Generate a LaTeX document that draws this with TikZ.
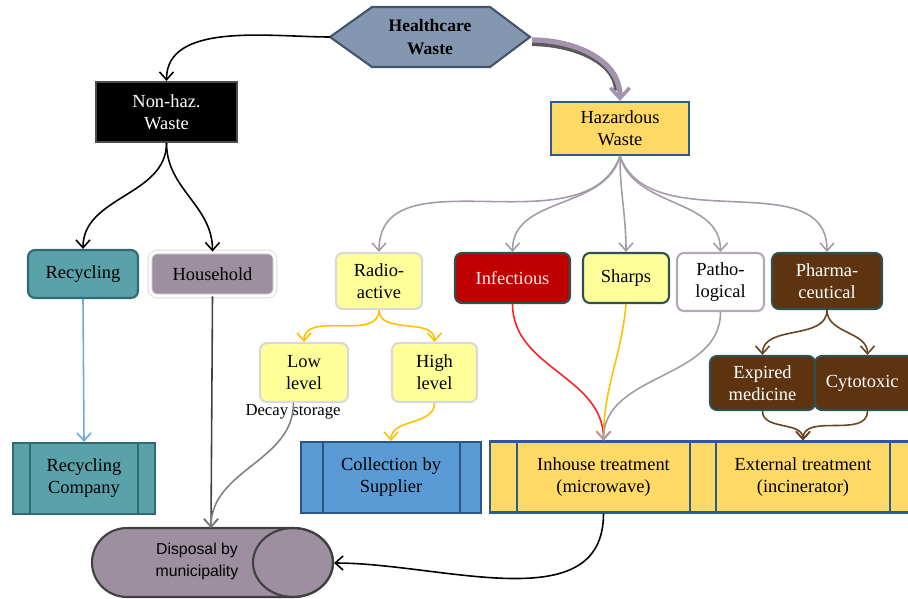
\documentclass[tikz,border=0pt]{standalone}
\usepackage{fontspec}
\setmainfont{Liberation Serif}
\newfontfamily\dispfont{Liberation Sans}
\usetikzlibrary{arrows.meta}
\definecolor{hcfill}{HTML}{8497B0}
\definecolor{hcdraw}{HTML}{44546A}
\definecolor{tealf}{HTML}{5AA1AA}
\definecolor{teald}{HTML}{2F6B73}
\definecolor{housec}{HTML}{9D8EA0}
\definecolor{gold}{HTML}{FFD966}
\definecolor{navyd}{HTML}{2E5C8A}
\definecolor{paley}{HTML}{FFFF99}
\definecolor{paled}{HTML}{D9D9D9}
\definecolor{redf}{HTML}{C00000}
\definecolor{slated}{HTML}{2F5050}
\definecolor{purpd}{HTML}{B4A7B6}
\definecolor{brownf}{HTML}{5E3410}
\definecolor{bluef}{HTML}{5B9BD5}
\definecolor{blued}{HTML}{2A5783}
\definecolor{arrpurp}{HTML}{A59AA8}
\definecolor{arrgold}{HTML}{FFC000}
\definecolor{arrred}{HTML}{FF2020}
\definecolor{arrbrown}{HTML}{6B4420}
\definecolor{arrblue}{HTML}{6FA8DC}
\definecolor{arrgray}{HTML}{808080}
\definecolor{bigarr}{HTML}{A393AC}
\begin{document}
\begin{tikzpicture}[x=0.02cm,y=-0.02cm,
  font=\fontsize{10.5}{12.5}\selectfont,
  bx/.style={draw, line width=1.2pt, align=center, inner sep=1pt},
  rbx/.style={bx, rounded corners=4pt},
  barb/.style={-{Straight Barb[length=4.5pt,width=8pt]}, line width=0.9pt},
  ppbox/.style={bx, fill=gold, draw=navyd, minimum height=1.42cm}]
\useasboundingbox (0,0) rectangle (908,598);

% Healthcare hexagon
\draw[fill=hcfill, draw=hcdraw, line width=1.2pt] (330,37) -- (372,7) -- (490,7) -- (530,37) -- (490,67) -- (372,67) -- cycle;
\node[font=\fontsize{10}{13}\selectfont\bfseries, align=center] (hc) at (430,37) {Healthcare\\Waste};
\coordinate (hcL) at (330,37);
\coordinate (hcR) at (532,40);

% Level 1
\node[bx, fill=black, draw=black!70, text=white, minimum width=2.82cm, minimum height=1.2cm] (nonhaz) at (166.5,112) {Non-haz.\\Waste};
\node[bx, fill=gold, draw=navyd, minimum width=2.76cm, minimum height=1.06cm] (haz) at (620,128.5) {Hazardous\\Waste};

% Level 2 left
\node[rbx, fill=tealf, draw=teald, minimum width=2.2cm, minimum height=0.96cm] (recyc) at (83,274) {Recycling};
\node[rbx, fill=housec, draw=black!15, double=white, double distance=1.6pt, line width=0.5pt, minimum width=2.5cm, minimum height=0.88cm] (house) at (212.5,274) {Household};

% Level 2 right
\node[rbx, fill=paley, draw=paled, minimum width=1.72cm, minimum height=1.12cm] (radio) at (379,281) {Radio-\\active};
\node[rbx, fill=redf, draw=slated, text=red!8, minimum width=2.3cm, minimum height=1.0cm] (infect) at (512.5,278) {Infectious};
\node[rbx, fill=paley, draw=slated, minimum width=1.72cm, minimum height=1.0cm] (sharps) at (626,278) {Sharps};
\node[rbx, fill=white, draw=purpd, minimum width=1.74cm, minimum height=1.16cm] (patho) at (720.5,282) {Patho-\\logical};
\node[rbx, fill=brownf, draw=slated, text=white, minimum width=2.2cm, minimum height=1.12cm] (pharma) at (827,281) {Pharma-\\ceutical};

% Level 3
\node[rbx, fill=paley, draw=paled, minimum width=1.76cm, minimum height=1.18cm] (low) at (304,372.5) {Low\\level};
\node[rbx, fill=paley, draw=paled, minimum width=1.7cm, minimum height=1.18cm] (high) at (434.5,372.5) {High\\level};
\node[font=\fontsize{9.5}{11}\selectfont] (decay) at (293,412) {Decay storage};
\node[rbx, fill=brownf, draw=slated, text=white, minimum width=2.1cm, minimum height=1.08cm] (expired) at (762.5,383) {Expired\\medicine};
\node[rbx, fill=brownf, draw=slated, text=white, minimum width=2.1cm, minimum height=1.08cm, text width=1.7cm, inner sep=1pt] (cyto) at (867.5,383) {\hspace*{-6pt}Cytotoxic};

% Level 4: predefined process boxes
\node[bx, fill=tealf, draw=teald, minimum width=2.84cm, minimum height=1.42cm] (recco) at (84,478.5) {Recycling\\Company};
\draw[teald, line width=1.2pt] ([xshift=0.36cm]recco.north west) -- ([xshift=0.36cm]recco.south west);
\draw[teald, line width=1.2pt] ([xshift=-0.36cm]recco.north east) -- ([xshift=-0.36cm]recco.south east);

\node[bx, fill=bluef, draw=blued, minimum width=3.6cm, minimum height=1.42cm] (coll) at (391,477.5) {Collection by\\Supplier};
\draw[blued, line width=1.2pt] ([xshift=0.46cm]coll.north west) -- ([xshift=0.46cm]coll.south west);
\draw[blued, line width=1.2pt] ([xshift=-0.44cm]coll.north east) -- ([xshift=-0.44cm]coll.south east);

\node[ppbox, minimum width=4.54cm] (inh) at (603.5,477) {Inhouse treatment\\(microwave)};
\draw[navyd, line width=1.2pt] ([xshift=0.56cm]inh.north west) -- ([xshift=0.56cm]inh.south west);

\node[ppbox, minimum width=4.52cm] (ext) at (803,477) {External treatment\\(incinerator)};
\draw[navyd, line width=1.2pt] ([xshift=0.54cm]ext.north west) -- ([xshift=0.54cm]ext.south west);
\draw[navyd, line width=1.2pt] ([xshift=-0.54cm]ext.north east) -- ([xshift=-0.54cm]ext.south east);

% Disposal cylinder
\draw[fill=housec, draw=black!75, line width=1.2pt] (293,528) arc[start angle=90, end angle=-90, x radius=0.8cm, y radius=0.69cm] -- (127,597) arc[start angle=270, end angle=90, x radius=0.7cm, y radius=0.69cm] -- cycle;
\draw[draw=black!75, line width=1.2pt] (293,562.5) ellipse[x radius=0.8cm, y radius=0.69cm];
\node[font=\dispfont\fontsize{9}{12.5}\selectfont, align=center] (disp) at (197,561) {Disposal by\\municipality};
\coordinate (dispT) at (211,528);
\coordinate (dispR) at (334,563);

% Connectors
\draw[barb, black] (hcL) to[out=180, in=90, looseness=0.9] (nonhaz.north);
\draw[line width=4pt, black!65, shorten >=6pt] ([yshift=-1.5pt]hcR) to[out=0, in=90] ([xshift=-1.5pt]haz.north);
\draw[bigarr, line width=3pt, -{Straight Barb[length=6pt,width=11pt,line width=2pt]}] (hcR) to[out=0, in=90] (haz.north);

\draw[barb, black] (nonhaz.south) to[out=270, in=90] (recyc.north);
\draw[barb, black] (nonhaz.south) to[out=270, in=90] (house.north);

\draw[barb, arrpurp] (haz.south) to[out=250, in=90] (radio.north);
\draw[barb, arrpurp] (haz.south) to[out=255, in=90] (infect.north);
\draw[barb, arrpurp] (haz.south) to[out=270, in=90] (sharps.north);
\draw[barb, arrpurp] (haz.south) to[out=285, in=90] (patho.north);
\draw[barb, arrpurp] (haz.south) to[out=290, in=90] (pharma.north);

\draw[barb, arrgold] (radio.south) to[out=270, in=90] (low.north);
\draw[barb, arrgold] (radio.south) to[out=270, in=90] (high.north);

\draw[barb, arrblue] (recyc.south) -- (recco.north);
\draw[barb, black!75] (house.south) -- (dispT);
\draw[barb, arrgray] ([xshift=-6pt]low.south) to[out=270, in=90] (dispT);
\draw[barb, arrgold] (high.south) to[out=270, in=90] (coll.north);

\draw[barb, arrred] (infect.south) to[out=270, in=90] (inh.north);
\draw[barb, arrgold] (sharps.south) to[out=265, in=90] (inh.north);
\draw[barb, arrpurp] (patho.south) to[out=270, in=90] (inh.north);

\draw[barb, arrbrown] (pharma.south) to[out=270, in=90] (expired.north);
\draw[barb, arrbrown] (pharma.south) to[out=270, in=90] (cyto.north);
\draw[barb, arrbrown] (expired.south) to[out=270, in=90] (ext.north);
\draw[barb, arrbrown] (cyto.south) to[out=270, in=90] (ext.north);

\draw[barb, black] (inh.south) to[out=270, in=0] (dispR);
\end{tikzpicture}
\end{document}
